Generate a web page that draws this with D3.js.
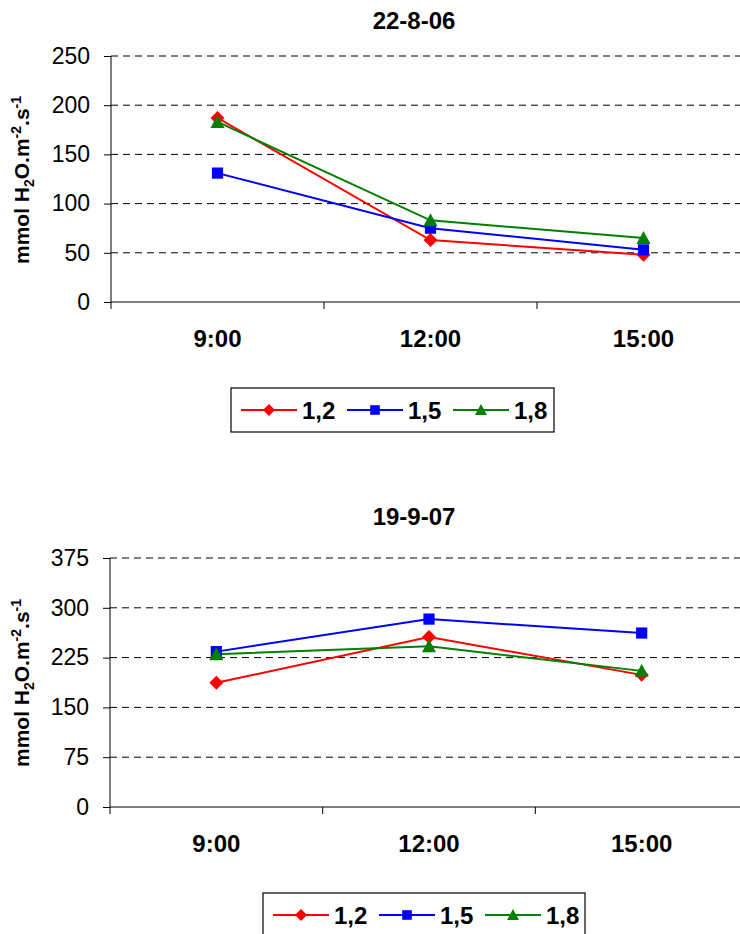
<!DOCTYPE html>
<html><head><meta charset="utf-8">
<script src="https://cdn.jsdelivr.net/npm/d3@7"></script>
<style>body{margin:0;background:#fff}svg{display:block;font-family:"Liberation Sans",Arial,sans-serif}</style>
</head><body><svg id="c" width="740" height="934"></svg>
<script>
const categories = ["9:00", "12:00", "15:00"];
const seriesNames = ["1,2", "1,5", "1,8"];
const seriesColors = ["#ff0000", "#0000ff", "#008000"];
const seriesShapes = ["diamond", "square", "triangle"];
const titles = ["22-8-06", "19-9-07"];
const top_12 = [187, 63, 48];
const top_15 = [131, 75, 53];
const top_18 = [183, 83, 65];
const bot_12 = [187, 256, 199];
const bot_15 = [234, 283, 262];
const bot_18 = [230, 242, 205];
const topTicks = [0, 50, 100, 150, 200, 250];
const botTicks = [0, 75, 150, 225, 300, 375];

const svg = d3.select("#c");
const FF = "Liberation Sans, Arial, sans-serif";

function marker(g, shape, color, x, y, s) {
  let d;
  if (shape === "diamond") d = `M0,${-s}L${s},0L0,${s}L${-s},0Z`;
  else if (shape === "square") { const h = s * 0.8; d = `M${-h},${-h}H${h}V${h}H${-h}Z`; }
  else d = `M0,${-s}L${s},${s * 0.85}H${-s}Z`;
  g.append("path").attr("d", d).attr("transform", `translate(${x},${y})`)
    .attr("fill", color).attr("stroke", "none");
}

function chart(cfg) {
  const g = svg.append("g");
  const x = d3.scaleBand().domain(categories).range([cfg.left, cfg.right]);
  const y = d3.scaleLinear().domain([0, d3.max(cfg.ticks)]).range([cfg.bottom, cfg.top]);
  g.append("text").attr("x", 414).attr("y", cfg.titleY).attr("text-anchor", "middle")
    .attr("font-size", 24).attr("font-weight", "bold").attr("font-family", FF).text(cfg.title);
  cfg.ticks.filter(t => t > 0).forEach(t => {
    g.append("line").attr("x1", cfg.left).attr("x2", 740).attr("y1", y(t)).attr("y2", y(t))
      .attr("stroke", "#000").attr("stroke-width", 1).attr("stroke-dasharray", "7,5");
  });
  const ya = g.append("g").attr("transform", `translate(${cfg.left},0)`)
    .call(d3.axisLeft(y).tickValues(cfg.ticks).tickSize(7).tickPadding(14).tickFormat(d3.format("d")));
  ya.select(".domain").attr("stroke", "#000").attr("d", `M0,${cfg.bottom}V${cfg.top}`);
  ya.selectAll("text").attr("font-size", 23).attr("fill", "#000").attr("font-family", FF);
  const xa = g.append("g").attr("transform", `translate(0,${cfg.bottom})`)
    .call(d3.axisBottom(x).tickSize(0).tickPadding(28));
  xa.select(".domain").attr("stroke", "#000").attr("d", `M${cfg.left},0H740`);
  xa.selectAll("text").attr("font-size", 24).attr("font-weight", "bold").attr("fill", "#000")
    .attr("font-family", FF);
  const edges = categories.map(c => x(c)).concat([x(categories[categories.length - 1]) + x.bandwidth()]);
  edges.forEach(e => g.append("line").attr("x1", e).attr("x2", e).attr("y1", cfg.bottom).attr("y2", cfg.bottom + 7).attr("stroke", "#000"));
  const yt = g.append("text").attr("transform", `translate(${cfg.ytX},${cfg.ytY}) rotate(-90)`)
    .attr("text-anchor", "middle").attr("font-size", 21).attr("font-weight", "bold").attr("font-family", FF);
  yt.append("tspan").text("mmol H");
  yt.append("tspan").attr("font-size", 14).attr("dy", 5).text("2");
  yt.append("tspan").attr("dy", -5).text("O.m");
  yt.append("tspan").attr("font-size", 14).attr("dy", -8).text("-2");
  yt.append("tspan").attr("dy", 8).text(".s");
  yt.append("tspan").attr("font-size", 14).attr("dy", -8).text("-1");
  const line = d3.line().x((d, i) => x(categories[i]) + x.bandwidth() / 2).y(d => y(d));
  cfg.series.forEach((s, k) => {
    g.append("path").datum(s).attr("d", line).attr("fill", "none")
      .attr("stroke", seriesColors[k]).attr("stroke-width", 2);
  });
  cfg.series.forEach((s, k) => {
    s.forEach((v, i) => marker(g, seriesShapes[k], seriesColors[k], x(categories[i]) + x.bandwidth() / 2, y(v), 7));
  });
  const L = cfg.legend;
  g.append("rect").attr("x", L.x).attr("y", L.y).attr("width", L.w).attr("height", 44)
    .attr("fill", "#fff").attr("stroke", "#000").attr("stroke-width", 1.2);
  seriesNames.forEach((n, k) => {
    const lx = L.x + 10 + k * 106, cy = L.y + 22;
    g.append("line").attr("x1", lx).attr("x2", lx + 56).attr("y1", cy).attr("y2", cy)
      .attr("stroke", seriesColors[k]).attr("stroke-width", 2);
    marker(g, seriesShapes[k], seriesColors[k], lx + 28, cy, 6);
    g.append("text").attr("x", lx + 61).attr("y", cy + 8.5).attr("font-size", 24)
      .attr("font-weight", "bold").attr("font-family", FF).text(n);
  });
}

chart({title: titles[0], titleY: 29, left: 111, right: 750, top: 56, bottom: 302, ticks: topTicks,
  series: [top_12, top_15, top_18], ytX: 29, ytY: 180, legend: {x: 231, y: 388, w: 323}});
chart({title: titles[1], titleY: 525, left: 110, right: 748, top: 558, bottom: 807, ticks: botTicks,
  series: [bot_12, bot_15, bot_18], ytX: 29, ytY: 683, legend: {x: 263, y: 893, w: 322}});
</script></body></html>
